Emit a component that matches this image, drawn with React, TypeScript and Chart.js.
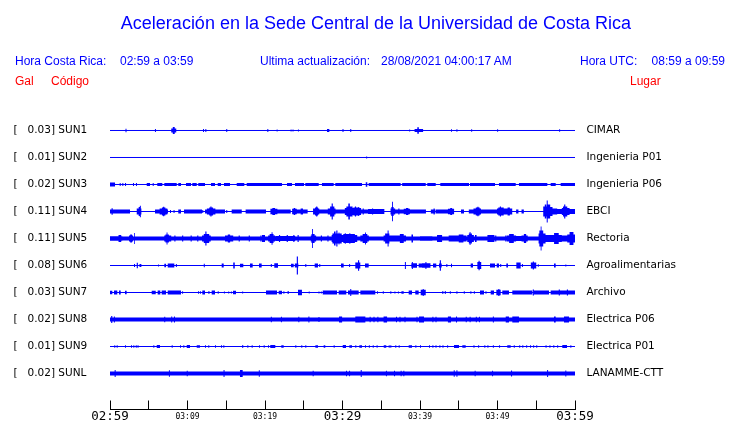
import React, { useEffect, useRef } from "react";
import { Chart, registerables } from "chart.js";

Chart.register(...registerables);

// ---------------- data ----------------
const GAL = [0.03, 0.01, 0.02, 0.11, 0.11, 0.08, 0.03, 0.02, 0.01, 0.02];
const CODES = ["SUN1", "SUN2", "SUN3", "SUN4", "SUN5", "SUN6", "SUN7", "SUN8", "SUN9", "SUNL"];
const PLACES = [
  "CIMAR", "Ingenieria P01", "Ingenieria P06", "EBCI", "Rectoria",
  "Agroalimentarias", "Archivo", "Electrica P06", "Electrica P01", "LANAMME-CTT",
];
// minutes after 02:59 (local time)
const TIME_TICKS = [0, 5, 10, 15, 20, 25, 30, 35, 40, 45, 50, 55, 60];
const TIME_LABELS = ["02:59", "", "03:09", "", "03:19", "", "03:29", "", "03:39", "", "03:49", "", "03:59"];
const MAJOR_LABELS = ["02:59", "03:29", "03:59"];

// background noise half-amplitude of each trace (display counts, 27 counts = one row)
const BASE_AMP = [0, 0, 0, 0, 2.0, 0, 0, 2.0, 0, 2.0];

// bursts: [start minute, end minute, half amplitude]
const SUN1_BURSTS = [
  [2.0, 2.13, 1.7], [5.8, 5.93, 1.5], [7.9, 8.55, 2.0], [8.1, 8.35, 3.5], [12.0, 12.13, 1.5], [12.3, 12.43, 1.5],
  [15.0, 15.13, 1.5], [20.3, 20.43, 1.5], [21.5, 21.63, 1.0], [23.3, 23.43, 1.0], [23.55, 23.68, 1.0], [24.25, 24.38, 1.0],
  [28.0, 28.3, 1.5], [30.0, 30.13, 1.5], [31.0, 31.13, 1.5], [38.6, 38.73, 1.0], [39.3, 40.4, 1.5], [39.65, 39.85, 3.3],
  [44.0, 44.13, 1.3], [44.7, 44.83, 1.3], [46.6, 46.73, 1.3], [49.95, 50.08, 1.3], [57.95, 58.08, 1.3],
];
const SUN2_BURSTS = [[33.05, 33.18, 1.0]];
const SUN3_BURSTS = [
  [0, 0.65, 2.0], [1.25, 1.38, 1.5], [1.59, 1.72, 1.5], [1.94, 2.07, 1.5], [2.97, 3.1, 1.5], [3.35, 3.48, 1.5],
  [4.74, 5.16, 1.6], [5.51, 5.64, 1.5], [6.1, 6.75, 1.6], [7.01, 8.61, 1.6], [8.81, 9.16, 1.6], [9.81, 10.45, 1.6],
  [10.62, 11.19, 1.6], [11.39, 12.26, 1.6], [13.03, 13.55, 1.6], [13.9, 14.32, 1.6], [14.71, 15.48, 1.6],
  [16.35, 17.33, 1.6], [17.64, 22.19, 1.6], [22.84, 23.48, 1.6], [23.87, 25.03, 1.6], [25.2, 26.93, 1.6],
  [27.35, 28.86, 1.6], [29.07, 32.52, 1.6], [33.0, 33.2, 2.3], [33.38, 37.5, 1.6], [37.7, 40.74, 1.6],
  [40.94, 42.03, 1.6], [42.62, 46.32, 1.6], [46.45, 49.68, 1.6], [50.19, 52.35, 1.6], [52.77, 56.43, 1.6],
  [56.86, 57.51, 1.6], [58.15, 60, 1.6],
];
const SUN4_BURSTS = [
  [0, 1.51, 2.0], [0.2, 0.35, 3.3], [1.51, 2.58, 2.0],
  [3.45, 4.05, 3.0], [3.7, 3.95, 4.5], [3.85, 3.98, 5.7],
  [5.81, 7.48, 2.0], [6.4, 7.4, 3.0], [6.7, 7.15, 4.0], [6.85, 7.0, 4.7],
  [7.74, 7.87, 1.5], [8.2, 8.33, 1.5], [8.81, 9.16, 2.0], [9.55, 11.87, 2.0], [11.9, 12.03, 1.5],
  [12.26, 14.84, 2.0], [12.5, 13.6, 3.0], [12.8, 13.3, 4.0], [12.95, 13.1, 5.0],
  [15.0, 15.13, 1.5], [15.7, 17.0, 2.0], [17.5, 20.13, 2.0],
  [20.7, 21.6, 2.8], [20.95, 21.3, 3.5], [21.6, 23.32, 2.0], [23.5, 24.1, 2.8], [23.7, 23.9, 3.5],
  [24.1, 25.5, 2.0], [24.6, 24.9, 3.0],
  [26.2, 27.0, 3.0], [26.45, 26.85, 4.0], [26.6, 26.75, 5.0], [27.0, 28.1, 2.0],
  [28.1, 29.1, 3.0], [28.4, 28.95, 5.0], [28.6, 28.75, 8.0], [29.1, 30.3, 2.0],
  [30.3, 32.4, 3.5], [30.5, 31.3, 5.0], [30.75, 30.95, 8.0], [31.4, 32.2, 4.0], [31.6, 31.75, 5.0], [32.0, 32.1, 4.5],
  [32.4, 33.3, 2.0], [32.6, 32.75, 3.0], [33.3, 35.4, 2.5], [33.8, 33.95, 3.0],
  [36.2, 36.8, 3.0], [36.3, 36.6, 4.5], [36.4, 36.52, 9.7], [36.8, 37.9, 2.0], [37.2, 37.35, 3.0],
  [37.9, 38.7, 2.8], [38.2, 38.5, 3.5], [38.7, 40.77, 2.0], [41.4, 42.0, 2.0], [41.75, 41.9, 3.0],
  [42.06, 43.6, 2.0], [43.6, 44.4, 2.8], [43.9, 44.15, 3.5], [45.29, 45.68, 2.0], [46.3, 46.9, 2.0],
  [46.9, 47.87, 3.0], [47.2, 47.7, 4.0], [47.4, 47.55, 4.7], [47.87, 49.94, 2.0],
  [49.94, 51.9, 3.0], [50.1, 50.8, 4.0], [50.3, 50.45, 5.0], [51.3, 51.6, 4.0],
  [52.4, 52.7, 2.0], [53.1, 53.4, 2.0],
  [55.9, 56.35, 5.0], [56.1, 56.3, 7.0], [56.35, 56.48, 11.0], [56.48, 56.8, 7.0], [56.8, 57.1, 4.5],
  [57.1, 57.7, 3.0], [57.7, 58.3, 2.5], [58.3, 59.3, 3.5], [58.45, 59.0, 5.0], [58.6, 58.75, 7.0], [59.3, 60, 2.5],
];
const SUN5_BURSTS = [
  [0, 1.6, 2.3], [1.1, 1.45, 3.5], [2.45, 2.97, 3.0], [2.6, 2.85, 4.0], [3.1, 3.2, 5.5],
  [7.0, 7.9, 3.0], [7.15, 7.6, 4.0], [7.3, 7.42, 6.0],
  [8.3, 8.45, 3.0], [9.3, 9.45, 3.0], [10.4, 10.55, 3.0], [11.25, 11.4, 3.0],
  [11.87, 13.0, 3.0], [12.1, 12.8, 4.5], [12.3, 12.45, 7.0],
  [14.84, 15.9, 3.0], [15.2, 15.5, 4.0], [16.6, 16.75, 3.0], [17.9, 18.05, 3.0], [19.4, 19.55, 3.0],
  [19.61, 20.0, 3.5], [20.4, 21.3, 3.0], [20.6, 21.1, 4.5], [20.85, 20.97, 6.3],
  [21.33, 23.9, 2.5], [21.8, 21.95, 3.5], [22.8, 22.95, 3.5], [23.65, 23.8, 3.5], [24.2, 24.35, 3.5],
  [25.9, 26.6, 3.0], [26.0, 26.4, 4.5], [26.07, 26.18, 9.5], [27.2, 27.35, 3.0], [28.05, 28.2, 3.0],
  [28.6, 31.9, 3.5], [28.7, 29.9, 5.0], [28.9, 29.1, 7.0], [29.2, 29.35, 8.0], [29.5, 29.6, 6.0],
  [30.1, 31.6, 4.5], [30.3, 30.4, 5.5], [30.9, 31.0, 5.5],
  [32.3, 33.4, 3.0], [32.6, 33.2, 4.5], [32.9, 33.02, 6.0],
  [35.3, 36.2, 3.0], [35.5, 36.05, 5.0], [35.82, 35.95, 8.0], [36.2, 37.1, 3.0],
  [37.1, 38.2, 3.0], [37.4, 37.9, 4.5], [38.9, 39.1, 4.0], [40.0, 41.6, 2.3], [42.2, 42.85, 3.5],
  [43.7, 46.0, 3.0], [45.0, 45.6, 4.0], [46.1, 46.95, 3.5], [46.3, 46.7, 5.0], [46.4, 46.52, 6.5],
  [47.1, 47.3, 3.5], [48.7, 49.6, 3.5], [49.7, 49.85, 3.0], [51.0, 51.15, 3.0],
  [51.2, 52.4, 3.0], [51.5, 52.1, 4.5], [52.4, 53.1, 2.5], [53.1, 53.9, 3.0], [53.4, 53.7, 4.5],
  [55.3, 56.2, 5.0], [55.4, 55.9, 8.0], [55.57, 55.68, 12.0], [56.2, 57.0, 3.5],
  [57.0, 58.3, 3.5], [57.3, 57.9, 5.5], [58.3, 59.0, 3.0], [59.0, 60, 4.0], [59.3, 59.8, 6.5],
];
const SUN6_BURSTS = [
  [3.1, 3.23, 1.5], [3.45, 3.6, 2.8], [3.8, 4.05, 1.5], [6.2, 6.33, 1.0], [7.01, 7.23, 1.7], [7.45, 8.3, 2.0],
  [8.5, 8.63, 1.5], [12.1, 12.23, 1.7], [14.41, 14.67, 2.0], [15.9, 16.1, 3.0], [16.77, 17.2, 1.7],
  [18.06, 18.41, 2.0], [19.23, 19.57, 2.0], [20.75, 20.88, 1.5], [21.2, 21.68, 2.3], [23.35, 23.7, 1.7],
  [23.85, 24.3, 2.0], [24.1, 24.25, 9.0], [25.2, 25.33, 1.5], [26.41, 26.84, 2.0], [27.0, 27.13, 1.5],
  [29.81, 30.15, 2.0], [30.85, 30.98, 1.5], [31.65, 32.3, 3.0], [32.0, 32.15, 5.3], [32.9, 33.38, 2.0],
  [38.05, 38.18, 3.5], [38.88, 39.61, 2.3], [38.95, 39.08, 3.5], [39.83, 40.26, 2.0], [40.26, 41.35, 2.3],
  [40.7, 40.83, 3.5], [41.68, 42.1, 2.0], [42.45, 42.8, 2.0], [42.55, 42.7, 5.3], [43.4, 43.53, 1.5],
  [44.0, 44.13, 1.7], [46.54, 46.84, 2.0], [47.4, 47.9, 3.5], [47.55, 47.7, 4.7], [49.03, 49.68, 2.0],
  [49.9, 50.19, 2.0], [50.35, 50.48, 1.5], [51.14, 51.35, 2.0], [52.43, 52.99, 3.0], [53.15, 53.28, 1.5],
  [54.3, 55.0, 3.0], [54.55, 54.7, 4.0], [55.2, 55.33, 1.2], [57.29, 57.51, 2.0], [58.75, 58.88, 1.0],
];
const SUN7_BURSTS = [
  [0, 0.3, 1.7], [0.52, 0.94, 2.0], [1.16, 1.38, 2.0], [1.94, 2.15, 1.7], [5.38, 5.9, 1.7], [6.15, 6.49, 2.0],
  [6.67, 7.23, 2.0], [7.45, 9.16, 2.0], [9.3, 9.43, 1.3], [11.35, 11.48, 1.3], [11.6, 11.73, 1.3],
  [11.91, 12.26, 2.0], [12.7, 12.83, 1.5], [13.12, 13.55, 2.0], [13.9, 14.03, 1.3], [14.7, 14.83, 1.0],
  [15.25, 15.38, 1.0], [15.6, 15.73, 1.0], [15.87, 16.26, 1.7], [17.05, 17.18, 1.0], [20.13, 21.55, 2.0],
  [21.77, 22.19, 1.7], [22.37, 22.5, 1.3], [22.9, 23.1, 1.3], [24.26, 24.77, 2.7], [25.64, 25.77, 1.0],
  [26.9, 27.03, 1.0], [27.2, 27.33, 1.0], [27.45, 29.29, 2.0], [29.51, 30.49, 2.0], [30.71, 32.09, 2.0],
  [31.0, 31.13, 3.5], [32.3, 34.23, 2.0], [34.45, 34.58, 1.3], [35.2, 35.33, 1.3], [36.17, 36.3, 1.3],
  [36.7, 36.83, 1.0], [37.15, 37.28, 1.0], [37.6, 37.9, 1.3], [38.54, 38.97, 2.0], [39.39, 39.83, 2.0],
  [40.09, 40.74, 2.7], [40.35, 40.48, 3.5], [42.88, 43.01, 1.5], [43.2, 43.33, 1.5], [43.85, 43.98, 1.2],
  [44.7, 44.83, 1.2], [45.65, 45.78, 1.2], [46.5, 46.63, 1.2], [46.95, 47.08, 1.2], [47.74, 48.26, 2.0],
  [48.45, 48.58, 1.3], [49.12, 49.55, 2.0], [49.85, 50.41, 2.7], [50.1, 50.25, 3.5], [50.62, 51.48, 2.0],
  [51.91, 54.49, 2.0], [54.55, 54.7, 3.0], [54.71, 56.65, 2.0], [56.86, 60, 2.0], [57.9, 58.05, 3.0],
  [58.95, 59.1, 3.0],
];
const SUN8_BURSTS = [
  [0.15, 0.3, 3.5], [0.5, 0.63, 3.0], [7.0, 7.13, 2.7], [7.9, 8.03, 3.0], [8.25, 8.38, 3.0], [20.75, 20.88, 2.7],
  [22.05, 22.18, 2.7], [24.3, 24.43, 2.7], [25.6, 25.73, 3.0], [26.9, 27.03, 2.5], [29.55, 29.95, 3.0],
  [31.65, 32.95, 3.0], [33.5, 33.63, 2.7], [34.0, 34.13, 2.7], [34.5, 34.63, 2.7], [35.3, 35.75, 3.0],
  [36.9, 37.03, 2.7], [37.35, 37.48, 2.7], [38.0, 38.13, 2.7], [39.55, 39.68, 2.7], [39.87, 40.52, 3.0],
  [41.6, 41.73, 2.7], [42.0, 42.13, 2.7], [43.6, 44.0, 3.0], [44.65, 44.78, 3.0], [45.9, 46.03, 2.7],
  [46.4, 46.53, 2.7], [47.2, 47.33, 2.7], [47.6, 47.73, 2.7], [49.4, 49.53, 3.0], [51.06, 51.48, 3.0],
  [51.91, 52.77, 3.0], [57.29, 57.51, 3.0], [58.58, 59.23, 3.0],
];
const SUN9_BURSTS = [
  [0.55, 0.68, 1.3], [0.86, 0.99, 1.3], [1.94, 2.07, 1.3], [2.71, 2.84, 1.3], [3.01, 3.14, 1.3], [3.32, 3.45, 1.3],
  [3.55, 3.68, 1.3], [5.59, 5.72, 1.3], [6.03, 6.45, 1.5], [7.96, 8.09, 1.3], [9.03, 9.16, 1.3], [9.46, 9.59, 1.3],
  [9.9, 10.32, 1.5], [11.19, 11.61, 1.3], [12.26, 12.39, 1.3], [12.68, 12.81, 1.3], [13.55, 13.68, 1.3],
  [14.32, 14.45, 1.3], [14.62, 14.75, 1.3], [17.03, 17.2, 1.3], [17.72, 17.85, 1.3], [18.28, 18.41, 1.3],
  [19.23, 19.36, 1.3], [19.83, 19.96, 1.3], [20.39, 20.52, 1.3], [20.68, 21.33, 1.5], [22.1, 22.41, 1.3],
  [23.91, 24.04, 1.3], [24.68, 24.81, 1.3], [25.2, 25.33, 1.3], [26.5, 26.84, 1.3], [27.57, 27.78, 1.3],
  [28.86, 28.99, 1.3], [30.03, 30.45, 1.5], [30.88, 31.23, 1.3], [31.65, 31.78, 1.3], [32.17, 32.52, 1.3],
  [32.9, 33.03, 1.3], [33.4, 33.53, 1.3], [33.9, 34.03, 1.3], [34.4, 34.53, 1.3], [35.32, 35.65, 1.3],
  [35.96, 36.09, 1.3], [36.17, 36.3, 1.3], [36.81, 36.94, 1.3], [37.25, 37.38, 1.3], [38.54, 38.97, 1.3],
  [39.4, 39.53, 1.3], [40.0, 40.13, 1.3], [41.16, 41.29, 1.3], [41.6, 41.73, 1.3], [42.0, 42.13, 1.3],
  [42.5, 42.63, 1.3], [42.9, 43.03, 1.3], [43.5, 43.63, 1.3], [44.39, 45.03, 1.5], [45.46, 45.9, 1.3],
  [46.9, 47.03, 1.3], [47.5, 47.63, 1.3], [48.3, 48.43, 1.3], [48.7, 48.83, 1.3], [49.4, 49.53, 1.3],
  [50.2, 50.33, 1.3], [51.26, 51.7, 1.3], [52.1, 52.23, 1.3], [52.8, 52.93, 1.3], [53.2, 53.33, 1.3],
  [53.7, 53.83, 1.3], [54.2, 54.33, 1.3], [54.6, 54.73, 1.3], [55.0, 55.13, 1.3], [56.2, 56.33, 1.3],
  [56.7, 56.83, 1.3], [57.2, 57.33, 1.3], [57.7, 57.83, 1.3], [58.36, 58.97, 1.5], [59.4, 59.53, 1.3],
];
const SUNL_BURSTS = [
  [0.6, 0.73, 3.5], [7.6, 7.73, 3.3], [9.9, 10.03, 2.7], [14.65, 14.78, 3.5], [16.77, 17.12, 3.5],
  [19.2, 19.33, 3.3], [26.15, 26.28, 2.7], [30.45, 30.58, 2.7], [30.85, 30.98, 2.7], [32.35, 32.48, 3.5],
  [35.6, 35.73, 2.7], [36.65, 36.78, 2.7], [37.5, 37.63, 2.7], [37.85, 37.98, 2.7], [44.35, 44.48, 3.3],
  [44.7, 44.83, 3.3], [47.05, 47.18, 2.7], [49.3, 49.43, 2.7], [51.75, 51.88, 3.0], [56.4, 56.53, 3.5],
  [58.75, 58.88, 3.0],
];

const TRACE_BURSTS = [
  SUN1_BURSTS, SUN2_BURSTS, SUN3_BURSTS, SUN4_BURSTS, SUN5_BURSTS,
  SUN6_BURSTS, SUN7_BURSTS, SUN8_BURSTS, SUN9_BURSTS, SUNL_BURSTS,
];

// ---------------- helpers ----------------
const COUNTS_PER_ROW = 27;
const BLUE = "#0000ff";
const RED = "#ff0000";
const T_END = 60;

function envelope(base: number, bursts: number[][]) {
  const cuts = new Set<number>([0, T_END]);
  bursts.forEach(([a, b]) => { cuts.add(a); cuts.add(b); });
  const xs = Array.from(cuts).filter((v) => v >= 0 && v <= T_END).sort((a, b) => a - b);
  const pts: { x: number; amp: number }[] = [];
  for (let k = 0; k < xs.length - 1; k++) {
    const mid = (xs[k] + xs[k + 1]) / 2;
    let amp = base;
    for (const [a, b, v] of bursts) if (mid >= a && mid <= b && v > amp) amp = v;
    pts.push({ x: xs[k], amp });
  }
  pts.push({ x: T_END, amp: pts[pts.length - 1].amp });
  return pts;
}

function leftLabel(i: number) {
  return `[   ${GAL[i].toFixed(2)}] ${CODES[i]}`;
}

const Y_MIN = -1.0185;
const Y_MAX = 10.3333;

const SANS = '"Liberation Sans", Arial, Helvetica, sans-serif';

export default function App() {
  const ref = useRef<HTMLCanvasElement | null>(null);

  useEffect(() => {
    if (!ref.current) return;
    const datasets: any[] = [];
    TRACE_BURSTS.forEach((bursts, i) => {
      const env = envelope(BASE_AMP[i], bursts);
      datasets.push({
        data: env.map((p) => ({ x: p.x, y: i - p.amp / COUNTS_PER_ROW })),
        stepped: true,
        borderWidth: 0,
        borderColor: "rgba(0,0,0,0)",
        backgroundColor: BLUE,
        pointRadius: 0,
        fill: false,
        yAxisID: "y",
      });
      datasets.push({
        data: env.map((p) => ({ x: p.x, y: i + p.amp / COUNTS_PER_ROW })),
        stepped: true,
        borderWidth: 0,
        borderColor: "rgba(0,0,0,0)",
        backgroundColor: BLUE,
        pointRadius: 0,
        fill: "-1",
        yAxisID: "y",
      });
      datasets.push({
        data: [{ x: 0, y: i }, { x: T_END, y: i }],
        borderWidth: 1,
        borderColor: BLUE,
        pointRadius: 0,
        fill: false,
        yAxisID: "y",
      });
    });

    const chart = new Chart(ref.current, {
      type: "line",
      data: { datasets },
      options: {
        animation: false,
        responsive: false,
        devicePixelRatio: 1,
        parsing: false as any,
        normalized: true,
        events: [],
        layout: { padding: { top: 103, left: 13.4, right: 0, bottom: 0 } },
        plugins: {
          legend: { display: false },
          tooltip: { enabled: false },
          title: { display: false },
        },
        scales: {
          x: {
            type: "linear",
            min: 0,
            max: T_END,
            afterBuildTicks: (s: any) => { s.ticks = TIME_TICKS.map((v) => ({ value: v })); },
            afterFit: (s: any) => { s.height = 13.5; },
            border: { display: true, color: "#000", width: 1 },
            grid: {
              display: true,
              drawOnChartArea: false,
              drawTicks: true,
              tickLength: -9,
              color: "#000",
              lineWidth: 1,
            },
            ticks: {
              autoSkip: false,
              maxRotation: 0,
              minRotation: 0,
              padding: 9,
              color: "#000",
              font: (ctx: any) => {
                const v = ctx.tick ? ctx.tick.value : 0;
                const lab = TIME_LABELS[TIME_TICKS.indexOf(v)];
                return MAJOR_LABELS.includes(lab)
                  ? { family: '"DejaVu Sans Mono"', size: 12.5, lineHeight: "15px" }
                  : { family: '"DejaVu Sans Mono"', size: 8, lineHeight: "15px" };
              },
              callback: (v: any) => TIME_LABELS[TIME_TICKS.indexOf(Number(v))] ?? "",
            },
          },
          y: {
            type: "linear",
            position: "left",
            reverse: true,
            min: Y_MIN,
            max: Y_MAX,
            afterBuildTicks: (s: any) => { s.ticks = CODES.map((_, i) => ({ value: i })); },
            afterFit: (s: any) => { s.width = 96.6; },
            border: { display: false },
            grid: { display: false },
            ticks: {
              autoSkip: false,
              crossAlign: "far",
              padding: 0,
              color: "#000",
              font: { family: '"DejaVu Sans"', size: 10.5 },
              callback: (v: any) => leftLabel(Number(v)),
            },
          },
          y2: {
            type: "linear",
            position: "right",
            reverse: true,
            min: Y_MIN,
            max: Y_MAX,
            afterBuildTicks: (s: any) => { s.ticks = PLACES.map((_, i) => ({ value: i })); },
            afterFit: (s: any) => { s.width = 165; },
            border: { display: false },
            grid: { display: false, drawTicks: true, tickLength: 11.4 },
            ticks: {
              autoSkip: false,
              crossAlign: "near",
              padding: 0,
              color: "#000",
              font: { family: '"DejaVu Sans"', size: 10.5 },
              callback: (v: any) => PLACES[Number(v)],
            },
          },
        },
      } as any,
    });
    return () => chart.destroy();
  }, []);

  const txt = (left: number, top: number, size: number, color: string, s: string) => (
    <div
      style={{
        position: "absolute",
        left,
        top,
        fontFamily: SANS,
        fontSize: size,
        lineHeight: `${size}px`,
        color,
        whiteSpace: "pre",
      }}
    >
      {s}
    </div>
  );

  return (
    <div style={{ position: "absolute", left: 0, top: 0, width: 740, height: 423, background: "#fff" }}>
      <canvas
        ref={ref}
        width={740}
        height={423}
        style={{ position: "absolute", left: 0, top: 0, width: 740, height: 423 }}
      />
      <div
        style={{
          position: "absolute",
          left: 0,
          top: 13.5,
          width: 752,
          textAlign: "center",
          fontFamily: SANS,
          fontSize: 18,
          lineHeight: "18px",
          color: BLUE,
          whiteSpace: "pre",
        }}
      >
        Aceleración en la Sede Central de la Universidad de Costa Rica
      </div>
      {txt(15, 55.1, 12, BLUE, "Hora Costa Rica:")}
      {txt(120, 55.1, 12, BLUE, "02:59 a 03:59")}
      {txt(260, 55.1, 12, BLUE, "Ultima actualización:")}
      {txt(381, 55.1, 12, BLUE, "28/08/2021 04:00:17 AM")}
      {txt(580, 55.1, 12, BLUE, "Hora UTC:")}
      {txt(651.6, 55.1, 12, BLUE, "08:59 a 09:59")}
      {txt(15, 75.1, 12, RED, "Gal")}
      {txt(51, 75.1, 12, RED, "Código")}
      {txt(630, 75.1, 12, RED, "Lugar")}
    </div>
  );
}
